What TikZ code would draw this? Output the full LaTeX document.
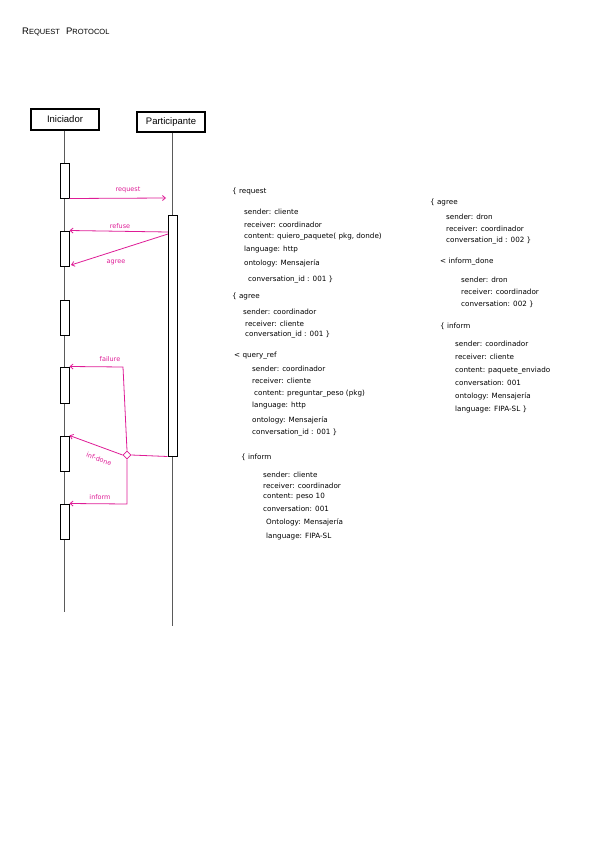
\documentclass[tikz,border=0pt]{standalone}
\usepackage{fontspec}
\setmainfont{Liberation Sans}
\newfontfamily\notefont{DejaVu Sans}
\usetikzlibrary{arrows.meta,shapes.geometric}
\definecolor{msgpink}{RGB}{222,28,150}
\definecolor{lifegray}{RGB}{90,90,90}
\tikzset{
  headbox/.style={draw=black, line width=1.1pt, minimum width=68pt, minimum height=21pt, inner sep=0pt, font=\fontsize{9.5}{10}\selectfont},
  lifeline/.style={draw=lifegray, line width=1pt},
  actbox/.style={draw=black, fill=white, line width=1pt, minimum width=9pt, inner sep=0pt},
  msg/.style={draw=msgpink, line width=0.8pt, -{Straight Barb[length=3pt,width=5pt]}},
  msgline/.style={draw=msgpink, line width=0.8pt},
  msglabel/.style={text=msgpink, font=\notefont\fontsize{6.5}{7}\selectfont, inner sep=0pt},
  note/.style={anchor=west, inner sep=0pt, font=\notefont\fontsize{7.2}{8}\selectfont},
  choice/.style={diamond, draw=msgpink, fill=white, line width=0.8pt, minimum width=8pt, minimum height=8pt, inner sep=0pt}
}
\begin{document}
\begin{tikzpicture}[x=1pt,y=-1pt]
\useasboundingbox (0,0) rectangle (600,848);
% title
\node[anchor=west, inner sep=0pt, font=\fontsize{7.5}{8}\selectfont] (title) at (22,32) {{\fontsize{9.5}{9}\selectfont R}EQUEST\ \ \ {\fontsize{9.5}{9}\selectfont P}ROTOCOL};
% heads
\node[headbox] (ini) at (65,119.5) {Iniciador};
\node[headbox, minimum height=20pt] (par) at (171,122) {Participante};
\coordinate (iniend) at (64.5,612);
\coordinate (parend) at (172.5,626);
\draw[lifeline] (ini.south -| iniend) -- (iniend);
\draw[lifeline] (par.south -| parend) -- (parend);
% activations
\node[actbox, minimum height=35pt] (a1) at (64.5,180.5) {};
\node[actbox, minimum height=35pt] (a2) at (64.5,248.5) {};
\node[actbox, minimum height=35pt] (a3) at (64.5,317.5) {};
\node[actbox, minimum height=36pt] (a4) at (64.5,385) {};
\node[actbox, minimum height=35pt] (a5) at (64.5,453.5) {};
\node[actbox, minimum height=35pt] (a6) at (64.5,521.5) {};
\node[actbox, minimum height=241pt] (pa) at (172.5,335.5) {};
% messages
\coordinate (reqend) at (166,198);
\draw[msg] (a1.south east) -- (reqend);
\node[msglabel] (lreq) at (128,190) {request};
\coordinate (refstart) at (168,232);
\draw[msg] (refstart) -- (a2.north east);
\node[msglabel] (lref) at (120,226) {refuse};
\coordinate (agrstart) at (168,234);
\coordinate (agrend) at (71,265);
\draw[msg] (agrstart) -- (agrend);
\node[msglabel] (lagr) at (116,262) {agree};
% alternatives
\node[choice] (ch) at (127,455) {};
\draw[msgline] (pa.south west) -- (ch.east);
\coordinate (failc) at (123,367);
\draw[msg] (ch.north) -- (failc) -- (a4.north east);
\node[msglabel] (lfail) at (110,359) {failure};
\draw[msg] (ch.west) -- (a5.north east);
\node[msglabel, rotate=-20] (lind) at (99,459) {inf-done};
\coordinate (infc) at (127,504);
\draw[msg] (ch.south) -- (infc) -- (a6.north east);
\node[msglabel] (linf) at (100,497) {inform};
% notes column 1
\node[note] (n1) at (232,192) {\{ request};
\node[note] (n2) at (244,212) {sender: cliente};
\node[note] (n3) at (244,225) {receiver: coordinador};
\node[note] (n4) at (244,237) {content: quiero\_paquete( pkg, donde)};
\node[note] (n5) at (244,250) {language: http};
\node[note] (n6) at (244,263) {ontology: Mensajería};
\node[note] (n7) at (248,280) {conversation\_id : 001 \}};
\node[note] (n8) at (232,297) {\{ agree};
\node[note] (n9) at (243,312) {sender: coordinador};
\node[note] (n10) at (245,324) {receiver: cliente};
\node[note] (n11) at (245,335) {conversation\_id : 001 \}};
\node[note] (n12) at (234,356) {< query\_ref};
\node[note] (n13) at (252,369) {sender: coordinador};
\node[note] (n14) at (252,381) {receiver: cliente};
\node[note] (n15) at (254,394) {content: preguntar\_peso (pkg)};
\node[note] (n16) at (252,406) {language: http};
\node[note] (n17) at (252,420) {ontology: Mensajería};
\node[note] (n18) at (252,433) {conversation\_id : 001 \}};
\node[note] (n19) at (241,457) {\{ inform};
\node[note] (n20) at (263,475) {sender: cliente};
\node[note] (n21) at (263,486) {receiver: coordinador};
\node[note] (n22) at (263,497) {content: peso 10};
\node[note] (n23) at (263,509) {conversation: 001};
\node[note] (n24) at (266,522) {Ontology: Mensajería};
\node[note] (n25) at (266,537) {language: FIPA-SL};
% notes column 2
\node[note] (m1) at (430,203) {\{ agree};
\node[note] (m2) at (446,217) {sender: dron};
\node[note] (m3) at (446,229) {receiver: coordinador};
\node[note] (m4) at (446,241) {conversation\_id : 002 \}};
\node[note] (m5) at (440,262) {< inform\_done};
\node[note] (m6) at (461,280) {sender: dron};
\node[note] (m7) at (461,292) {receiver: coordinador};
\node[note] (m8) at (461,304) {conversation: 002 \}};
\node[note] (m9) at (440,326) {\{ inform};
\node[note] (m10) at (455,344) {sender: coordinador};
\node[note] (m11) at (455,357) {receiver: cliente};
\node[note] (m12) at (455,371) {content: paquete\_enviado};
\node[note] (m13) at (455,383) {conversation: 001};
\node[note] (m14) at (455,396) {ontology: Mensajería};
\node[note] (m15) at (455,410) {language: FIPA-SL \}};
\end{tikzpicture}
\end{document}
